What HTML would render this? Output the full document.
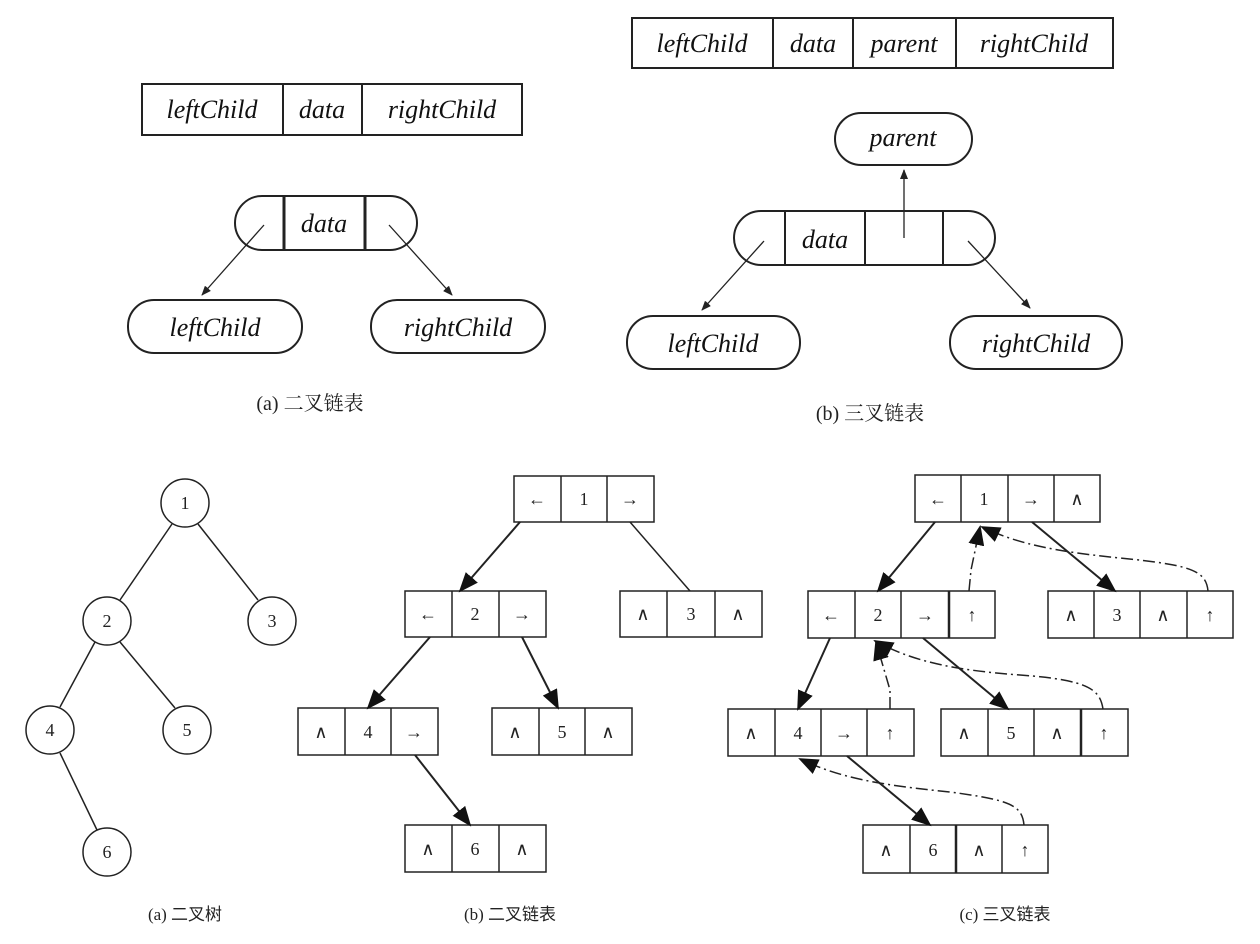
<!DOCTYPE html>
<html><head><meta charset="utf-8"><style>body{margin:0;background:#fff}svg{display:block}</style></head><body>
<svg width="1260" height="944" xmlns="http://www.w3.org/2000/svg">
<defs>
<marker id="sa" markerWidth="10" markerHeight="8" refX="9" refY="4" orient="auto" markerUnits="userSpaceOnUse"><path d="M0,0 L10,4 L0,8 z" fill="#222"/></marker>
<marker id="ba" markerWidth="20" markerHeight="16" refX="18" refY="8" orient="auto" markerUnits="userSpaceOnUse"><path d="M0,0 L20,8 L0,16 z" fill="#111"/></marker>
</defs>
<g fill="none" stroke="#222" stroke-width="2">
<!-- top a -->
<rect x="142" y="84" width="380" height="51"/><line x1="283" y1="84" x2="283" y2="135"/><line x1="362" y1="84" x2="362" y2="135"/>
<rect x="235" y="196" width="182" height="54" rx="27"/><line x1="284" y1="196" x2="284" y2="250" stroke-width="3"/><line x1="365" y1="196" x2="365" y2="250" stroke-width="3"/>
<rect x="128" y="300" width="174" height="53" rx="26"/><rect x="371" y="300" width="174" height="53" rx="26"/>
<line x1="264" y1="225" x2="202" y2="295" stroke-width="1.3" marker-end="url(#sa)"/>
<line x1="389" y1="225" x2="452" y2="295" stroke-width="1.3" marker-end="url(#sa)"/>
<!-- top b -->
<rect x="632" y="18" width="481" height="50"/><line x1="773" y1="18" x2="773" y2="68"/><line x1="853" y1="18" x2="853" y2="68"/><line x1="956" y1="18" x2="956" y2="68"/>
<rect x="835" y="113" width="137" height="52" rx="26"/>
<rect x="734" y="211" width="261" height="54" rx="27"/><line x1="785" y1="211" x2="785" y2="265"/><line x1="865" y1="211" x2="865" y2="265"/><line x1="943" y1="211" x2="943" y2="265"/>
<rect x="627" y="316" width="173" height="53" rx="26"/><rect x="950" y="316" width="172" height="53" rx="26"/>
<line x1="904" y1="238" x2="904" y2="170" stroke-width="1.3" marker-end="url(#sa)"/>
<line x1="764" y1="241" x2="702" y2="310" stroke-width="1.3" marker-end="url(#sa)"/>
<line x1="968" y1="241" x2="1030" y2="308" stroke-width="1.3" marker-end="url(#sa)"/>
<!-- tree -->
<g stroke-width="1.5">
<line x1="172" y1="524" x2="120" y2="600"/><line x1="198" y1="524" x2="258" y2="600"/>
<line x1="95" y1="642" x2="60" y2="707"/><line x1="120" y1="642" x2="175" y2="708"/>
<line x1="60" y1="753" x2="97" y2="830"/>
<circle cx="185" cy="503" r="24" fill="#fff"/><circle cx="107" cy="621" r="24" fill="#fff"/><circle cx="272" cy="621" r="24" fill="#fff"/>
<circle cx="50" cy="730" r="24" fill="#fff"/><circle cx="187" cy="730" r="24" fill="#fff"/><circle cx="107" cy="852" r="24" fill="#fff"/>
</g>
<!-- b list -->
<g stroke-width="1.5">
<rect x="514" y="476" width="140" height="46"/><line x1="561" y1="476" x2="561" y2="522"/><line x1="607" y1="476" x2="607" y2="522"/>
<rect x="405" y="591" width="141" height="46"/><line x1="452" y1="591" x2="452" y2="637"/><line x1="499" y1="591" x2="499" y2="637"/>
<rect x="620" y="591" width="142" height="46"/><line x1="667" y1="591" x2="667" y2="637"/><line x1="715" y1="591" x2="715" y2="637"/>
<rect x="298" y="708" width="140" height="47"/><line x1="345" y1="708" x2="345" y2="755"/><line x1="391" y1="708" x2="391" y2="755"/>
<rect x="492" y="708" width="140" height="47"/><line x1="539" y1="708" x2="539" y2="755"/><line x1="585" y1="708" x2="585" y2="755"/>
<rect x="405" y="825" width="141" height="47"/><line x1="452" y1="825" x2="452" y2="872"/><line x1="499" y1="825" x2="499" y2="872"/>
<line x1="630" y1="522" x2="690" y2="591"/>
</g>
<g stroke-width="2">
<line x1="520" y1="522" x2="460" y2="591" marker-end="url(#ba)"/>
<line x1="430" y1="637" x2="368" y2="708" marker-end="url(#ba)"/>
<line x1="522" y1="637" x2="558" y2="708" marker-end="url(#ba)"/>
<line x1="415" y1="755" x2="470" y2="825" marker-end="url(#ba)"/>
</g>
<!-- c list -->
<g stroke-width="1.5">
<rect x="915" y="475" width="185" height="47"/><line x1="961" y1="475" x2="961" y2="522"/><line x1="1008" y1="475" x2="1008" y2="522"/><line x1="1054" y1="475" x2="1054" y2="522"/>
<rect x="808" y="591" width="187" height="47"/><line x1="855" y1="591" x2="855" y2="638"/><line x1="901" y1="591" x2="901" y2="638"/><line x1="949" y1="591" x2="949" y2="638" stroke-width="2.5"/>
<rect x="1048" y="591" width="185" height="47"/><line x1="1094" y1="591" x2="1094" y2="638"/><line x1="1140" y1="591" x2="1140" y2="638"/><line x1="1187" y1="591" x2="1187" y2="638"/>
<rect x="728" y="709" width="186" height="47"/><line x1="775" y1="709" x2="775" y2="756"/><line x1="821" y1="709" x2="821" y2="756"/><line x1="867" y1="709" x2="867" y2="756"/>
<rect x="941" y="709" width="187" height="47"/><line x1="988" y1="709" x2="988" y2="756"/><line x1="1034" y1="709" x2="1034" y2="756"/><line x1="1081" y1="709" x2="1081" y2="756" stroke-width="2.5"/>
<rect x="863" y="825" width="185" height="48"/><line x1="910" y1="825" x2="910" y2="873"/><line x1="956" y1="825" x2="956" y2="873" stroke-width="2.5"/><line x1="1002" y1="825" x2="1002" y2="873"/>
</g>
<g stroke-width="2">
<line x1="935" y1="522" x2="878" y2="591" marker-end="url(#ba)"/>
<line x1="1032" y1="522" x2="1115" y2="591" marker-end="url(#ba)"/>
<line x1="830" y1="638" x2="798" y2="709" marker-end="url(#ba)"/>
<line x1="923" y1="638" x2="1008" y2="709" marker-end="url(#ba)"/>
<line x1="847" y1="756" x2="930" y2="825" marker-end="url(#ba)"/>
</g>
<g stroke-width="1.5" stroke-dasharray="12,4,2,4">
<path d="M969,591 L971,570 L980,527" marker-end="url(#ba)"/>
<path d="M1208,591 C1206,570 1190,565 1120,558 C1060,552 1020,545 982,527" marker-end="url(#ba)"/>
<path d="M890,709 L890,690 L876,642" marker-end="url(#ba)"/>
<path d="M1103,709 C1100,690 1090,680 1020,675 C950,670 910,660 875,641" marker-end="url(#ba)"/>
<path d="M1024,825 C1022,805 1010,800 950,792 C880,785 840,778 800,759" marker-end="url(#ba)"/>
</g>
</g>
<g font-family="Liberation Serif, serif" font-style="italic" font-size="26" fill="#111" text-anchor="middle">
<text x="212" y="118">leftChild</text><text x="322" y="118">data</text><text x="442" y="118">rightChild</text>
<text x="324" y="232">data</text>
<text x="215" y="336">leftChild</text><text x="458" y="336">rightChild</text>
<text x="702" y="52">leftChild</text><text x="813" y="52">data</text><text x="904" y="52">parent</text><text x="1034" y="52">rightChild</text>
<text x="903" y="146">parent</text><text x="825" y="248">data</text>
<text x="713" y="352">leftChild</text><text x="1036" y="352">rightChild</text>
</g>
<g font-family="Liberation Serif, 'Noto Serif CJK SC', serif" font-size="20" fill="#222" text-anchor="middle">
<text x="310" y="410">(a) 二叉链表</text><text x="870" y="420">(b) 三叉链表</text>
</g>
<g font-family="Liberation Serif, 'Noto Sans CJK SC', serif" font-size="17" fill="#222" text-anchor="middle">
<text x="185" y="920">(a) 二叉树</text><text x="510" y="920">(b) 二叉链表</text><text x="1005" y="920">(c) 三叉链表</text>
</g>
<g font-family="Liberation Serif, 'DejaVu Sans', serif" font-size="18" fill="#222" text-anchor="middle">
<text x="185" y="509">1</text><text x="107" y="627">2</text><text x="272" y="627">3</text><text x="50" y="736">4</text><text x="187" y="736">5</text><text x="107" y="858">6</text>
<text x="537" y="505">←</text><text x="584" y="505">1</text><text x="630" y="505">→</text>
<text x="428" y="620">←</text><text x="475" y="620">2</text><text x="522" y="620">→</text>
<text x="643" y="620">∧</text><text x="691" y="620">3</text><text x="738" y="620">∧</text>
<text x="321" y="738">∧</text><text x="368" y="738">4</text><text x="414" y="738">→</text>
<text x="515" y="738">∧</text><text x="562" y="738">5</text><text x="608" y="738">∧</text>
<text x="428" y="855">∧</text><text x="475" y="855">6</text><text x="522" y="855">∧</text>
<text x="938" y="505">←</text><text x="984" y="505">1</text><text x="1031" y="505">→</text><text x="1077" y="505">∧</text>
<text x="831" y="621">←</text><text x="878" y="621">2</text><text x="925" y="621">→</text><text x="972" y="621">↑</text>
<text x="1071" y="621">∧</text><text x="1117" y="621">3</text><text x="1163" y="621">∧</text><text x="1210" y="621">↑</text>
<text x="751" y="739">∧</text><text x="798" y="739">4</text><text x="844" y="739">→</text><text x="890" y="739">↑</text>
<text x="964" y="739">∧</text><text x="1011" y="739">5</text><text x="1057" y="739">∧</text><text x="1104" y="739">↑</text>
<text x="886" y="856">∧</text><text x="933" y="856">6</text><text x="979" y="856">∧</text><text x="1025" y="856">↑</text>
</g>
</svg>
</body></html>
